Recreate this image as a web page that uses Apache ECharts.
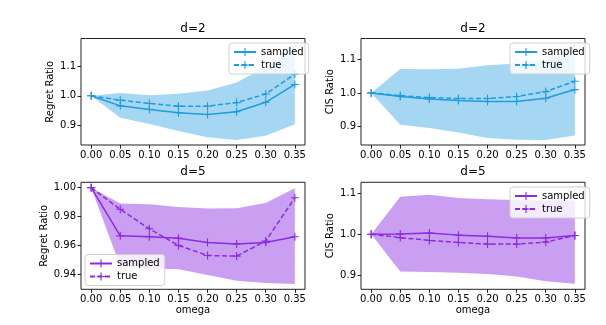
<!DOCTYPE html>
<html>
<head>
<meta charset="utf-8">
<script src="https://cdn.jsdelivr.net/npm/echarts@6/dist/echarts.min.js"></script>
<style>
  html, body { margin: 0; padding: 0; background: #fff; }
  #chart { width: 606px; height: 325px; }
</style>
</head>
<body>
<div id="chart"></div>
<script>
// omega values shared by all four panels
const omega = [0, 0.05, 0.10, 0.15, 0.20, 0.25, 0.30, 0.35]
const xTicks = [0, 0.05, 0.10, 0.15, 0.20, 0.25, 0.30, 0.35]

// d=2, regret ratio
const regret2Sampled = [1.0, 0.966, 0.954, 0.943, 0.937, 0.946, 0.978, 1.038]
const regret2True = [1.0, 0.985, 0.974, 0.965, 0.965, 0.977, 1.006, 1.073]
const regret2Hi = [1.0, 1.009, 1.002, 1.007, 1.018, 1.045, 1.098, 1.176]
const regret2Lo = [1.0, 0.926, 0.905, 0.881, 0.860, 0.851, 0.865, 0.904]
const regret2Ticks = [0.9, 1.0, 1.1]

// d=2, CIS ratio
const cis2Sampled = [1.0, 0.989, 0.982, 0.977, 0.974, 0.974, 0.984, 1.010]
const cis2True = [1.0, 0.992, 0.986, 0.983, 0.983, 0.989, 1.004, 1.035]
const cis2Hi = [1.0, 1.072, 1.071, 1.073, 1.083, 1.089, 1.100, 1.149]
const cis2Lo = [1.0, 0.904, 0.894, 0.881, 0.864, 0.859, 0.858, 0.872]
const cis2Ticks = [0.9, 1.0, 1.1]

// d=5, regret ratio
const regret5Sampled = [1.0, 0.9666, 0.966, 0.965, 0.962, 0.961, 0.962, 0.966]
const regret5True = [1.0, 0.985, 0.9715, 0.960, 0.953, 0.9526, 0.963, 0.993]
const regret5Hi = [1.0, 0.989, 0.9885, 0.9866, 0.9855, 0.9857, 0.9894, 0.9995]
const regret5Lo = [1.0, 0.9455, 0.944, 0.9434, 0.9395, 0.9356, 0.934, 0.9333]
const regret5Ticks = [0.94, 0.96, 0.98, 1.00]

// d=5, CIS ratio
const cis5Sampled = [1.0, 1.001, 1.003, 0.998, 0.995, 0.991, 0.991, 0.997]
const cis5True = [1.0, 0.992, 0.985, 0.980, 0.976, 0.976, 0.981, 0.997]
const cis5Hi = [1.0, 1.092, 1.097, 1.089, 1.086, 1.084, 1.083, 1.083]
const cis5Lo = [1.0, 0.909, 0.908, 0.906, 0.903, 0.897, 0.885, 0.879]
const cis5Ticks = [0.9, 1.0, 1.1]

const FONT = 'DejaVu Sans'
const BLUE = '#1f9be0'
const BLUE_FILL = 'rgba(31,155,224,0.4)'
const PURPLE = '#8a2be2'
const PURPLE_FILL = 'rgba(138,43,226,0.45)'
const PLUS = 'path://M4.3,0h1.4v10h-1.4zM0,4.3h10v1.4h-10z'

const panels = [
  { title: 'd=2', yName: 'Regret Ratio', sampled: regret2Sampled, truth: regret2True, hi: regret2Hi, lo: regret2Lo,
    ticks: regret2Ticks, digits: 1, ymin: 0.834, ymax: 1.193, color: BLUE, fill: BLUE_FILL,
    grid: { left: 81, right: 301, top: 38.5, bottom: 180 }, legend: { left: 229, top: 43 }, titleX: 193, titleY: 23, xName: '' },
  { title: 'd=2', yName: 'CIS Ratio', sampled: cis2Sampled, truth: cis2True, hi: cis2Hi, lo: cis2Lo,
    ticks: cis2Ticks, digits: 1, ymin: 0.843, ymax: 1.164, color: BLUE, fill: BLUE_FILL,
    grid: { left: 361, right: 21, top: 38.5, bottom: 180 }, legend: { left: 510, top: 43 }, titleX: 473, titleY: 23, xName: '' },
  { title: 'd=5', yName: 'Regret Ratio', sampled: regret5Sampled, truth: regret5True, hi: regret5Hi, lo: regret5Lo,
    ticks: regret5Ticks, digits: 2, ymin: 0.9296, ymax: 1.0037, color: PURPLE, fill: PURPLE_FILL,
    grid: { left: 81, right: 301, top: 182.3, bottom: 35.7 }, legend: { left: 85, top: 254.5 }, titleX: 193, titleY: 166, xName: 'omega' },
  { title: 'd=5', yName: 'CIS Ratio', sampled: cis5Sampled, truth: cis5True, hi: cis5Hi, lo: cis5Lo,
    ticks: cis5Ticks, digits: 1, ymin: 0.8654, ymax: 1.1273, color: PURPLE, fill: PURPLE_FILL,
    grid: { left: 361, right: 21, top: 182.3, bottom: 35.7 }, legend: { left: 510, top: 187 }, titleX: 473, titleY: 166, xName: 'omega' }
]

const option = { animation: false, title: [], grid: [], xAxis: [], yAxis: [], legend: [], series: [] }

panels.forEach((p, i) => {
  option.title.push({
    text: p.title, left: p.titleX, top: p.titleY, textAlign: 'center', padding: 0,
    textStyle: { fontFamily: FONT, fontSize: 12, fontWeight: 'normal', color: '#000' }
  })
  option.grid.push(Object.assign({ show: true, borderColor: '#222', borderWidth: 1, backgroundColor: 'transparent' }, p.grid))
  option.xAxis.push({
    type: 'value', gridIndex: i, min: -0.0175, max: 0.3675,
    name: p.xName, nameLocation: 'middle', nameGap: 16,
    nameTextStyle: { fontFamily: FONT, fontSize: 10, color: '#000' },
    axisLine: { show: false, onZero: false }, splitLine: { show: false },
    axisTick: { show: true, inside: false, length: 3.5, customValues: xTicks, lineStyle: { color: '#222' } },
    axisLabel: { customValues: xTicks, margin: 5, fontFamily: FONT, fontSize: 10, color: '#000',
      formatter: v => v.toFixed(2) }
  })
  option.yAxis.push({
    type: 'value', gridIndex: i, min: p.ymin, max: p.ymax,
    name: p.yName, nameLocation: 'middle', nameRotate: 90, nameGap: p.digits === 2 ? 31 : 26,
    nameTextStyle: { fontFamily: FONT, fontSize: 10, color: '#000' },
    axisLine: { show: false, onZero: false }, splitLine: { show: false },
    axisTick: { show: true, inside: false, length: 3.5, customValues: p.ticks, lineStyle: { color: '#222' } },
    axisLabel: { customValues: p.ticks, margin: 5, fontFamily: FONT, fontSize: 10, color: '#000',
      formatter: v => v.toFixed(p.digits) }
  })

  // shaded band between lo and hi
  option.series.push({
    type: 'custom', xAxisIndex: i, yAxisIndex: i, z: 1, silent: true,
    data: omega.map((x, k) => [x, p.lo[k], p.hi[k]]),
    renderItem: (params, api) => {
      if (params.dataIndex !== 0) return null
      const upper = omega.map((x, k) => api.coord([x, p.hi[k]]))
      const lower = omega.map((x, k) => api.coord([x, p.lo[k]])).reverse()
      return { type: 'polygon', shape: { points: upper.concat(lower) }, style: { fill: p.fill } }
    }
  })

  const nameS = 'sampled|' + i
  const nameT = 'true|' + i
  option.series.push({
    name: nameS, type: 'line', xAxisIndex: i, yAxisIndex: i, z: 3,
    data: omega.map((x, k) => [x, p.sampled[k]]),
    symbol: PLUS, symbolSize: 8, showSymbol: true,
    lineStyle: { color: p.color, width: 1.5 }, itemStyle: { color: p.color }
  })
  option.series.push({
    name: nameT, type: 'line', xAxisIndex: i, yAxisIndex: i, z: 3,
    data: omega.map((x, k) => [x, p.truth[k]]),
    symbol: PLUS, symbolSize: 8, showSymbol: true,
    lineStyle: { color: p.color, width: 1.5, type: [5, 2.5] }, itemStyle: { color: p.color }
  })

  option.legend.push({
    data: [nameS, nameT], orient: 'vertical', left: p.legend.left, top: p.legend.top,
    itemWidth: 22, itemHeight: 10, itemGap: 3, padding: [4, 5, 4, 4],
    backgroundColor: 'rgba(255,255,255,0.8)', borderColor: '#d0d0d0', borderWidth: 1, borderRadius: 3,
    selectedMode: false, z: 10,
    formatter: n => n.split('|')[0],
    textStyle: { fontFamily: FONT, fontSize: 10, color: '#000', padding: [0, 0, 0, 0] }
  })
})

const chart = echarts.init(document.getElementById('chart'), null, { renderer: 'canvas' })
chart.setOption(option)
</script>
</body>
</html>
